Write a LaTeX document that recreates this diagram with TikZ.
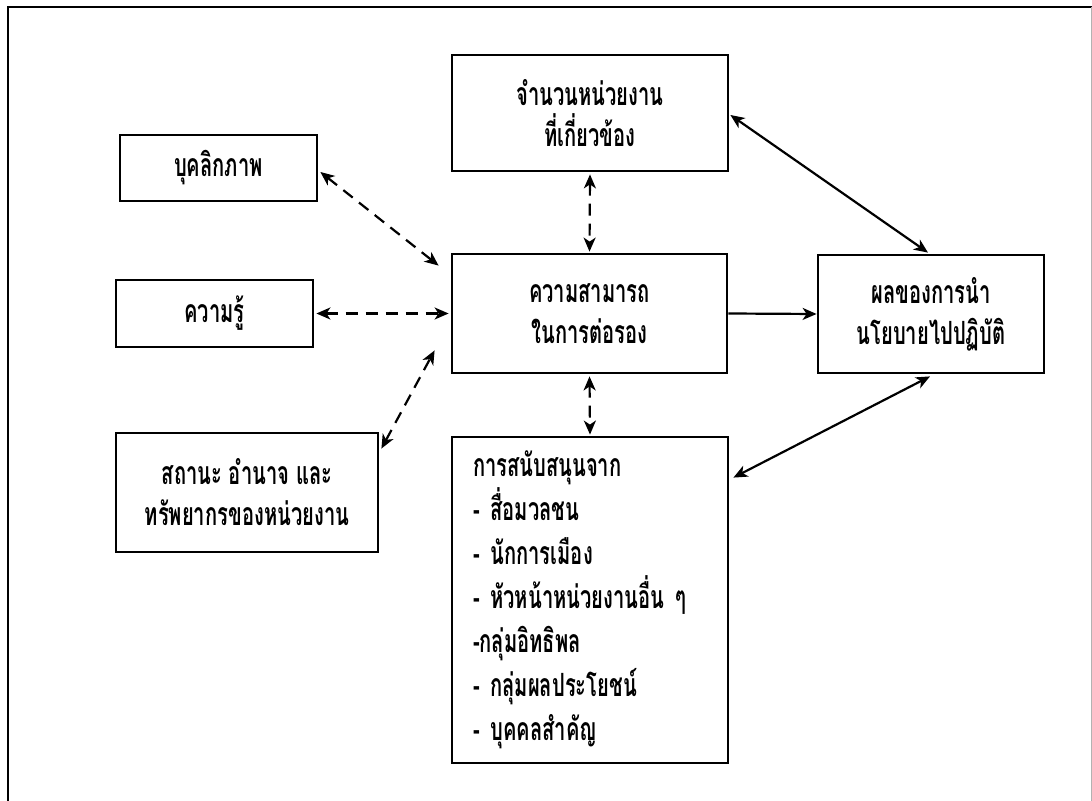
\documentclass[tikz,border=0pt]{standalone}
\usepackage{fontspec}
\newfontfamily\thai[Script=Thai,FakeStretch=0.63]{Loma}
\usetikzlibrary{arrows.meta}
\begin{document}
\begin{tikzpicture}[x=0.5pt,y=-0.5pt,
  box/.style={draw,line width=1.4pt,inner sep=0pt,align=center,
    font=\thai\bfseries\fontsize{16}{20.5}\selectfont},
  dar/.style={line width=1.1pt,dash pattern=on 6pt off 4pt,{Stealth[length=7pt,width=6pt,inset=2pt]}-{Stealth[length=7pt,width=6pt,inset=2pt]}},
  sar/.style={line width=1.1pt,{Stealth[length=7pt,width=6pt,inset=2pt]}-{Stealth[length=7pt,width=6pt,inset=2pt]}},
  oar/.style={line width=1.1pt,-{Stealth[length=7pt,width=6pt,inset=2pt]}}]
\useasboundingbox (0,0) rectangle (1092,801);
% outer frame
\draw[line width=1.1pt] (8,801) -- (8,7) -- (1092,7);
\draw[line width=0.4pt,gray!60] (1091,7) -- (1091,801);

% boxes
\node[box,minimum width=98.5pt,minimum height=33pt] (pers) at (218.5,168) {บุคลิกภาพ};
\node[box,minimum width=98.5pt,minimum height=33.5pt] (know) at (214.5,313.5) {ความรู้};
\node[box,minimum width=131pt,minimum height=59.5pt] (stat) at (247,492.5) {สถานะ อำนาจ และ\\ทรัพยากรของหน่วยงาน};
\node[box,minimum width=138pt,minimum height=58pt] (count) at (590,113) {จำนวนหน่วยงาน\\ที่เกี่ยวข้อง};
\node[box,minimum width=137.5pt,minimum height=59.5pt] (cap) at (589.5,313.5) {ความสามารถ\\ในการต่อรอง};
\node[box,minimum width=113pt,minimum height=59pt] (res) at (931,314) {ผลของการนำ\\นโยบายไปปฏิบัติ};
\node[box,minimum height=163pt,text width=117pt,inner xsep=10.5pt,align=left,
  font=\thai\bfseries\fontsize{16}{22}\selectfont] (sup) at (590,600)
  {การสนับสนุนจาก\\- สื่อมวลชน\\- นักการเมือง\\- หัวหน้าหน่วยงานอื่น ๆ\\-กลุ่มอิทธิพล\\- กลุ่มผลประโยชน์\\- บุคคลสำคัญ};

% connectors
\draw[dar] ([xshift=1pt,yshift=-2pt]pers.east) -- ([xshift=-6pt,yshift=-6.5pt]cap.north west);
\draw[dar] ([xshift=1pt]know.east) -- ([xshift=-1pt]cap.west);
\draw[dar] ([xshift=1pt,yshift=-8.5pt]stat.north east) -- ([xshift=-8pt,yshift=12pt]cap.south west);
\draw[dar] ([yshift=-1pt]count.south) -- ([yshift=0.5pt]cap.north);
\draw[dar] ([yshift=-1pt]cap.south) -- ([yshift=0.5pt]sup.north);
\draw[oar] (cap.east) -- (res.west);
\draw[sar] ([xshift=0.5pt,yshift=-1pt]count.east) -- ([xshift=-1.5pt,yshift=0.5pt]res.north);
\draw[sar] ([xshift=2pt,yshift=-21pt]sup.north east) -- ([xshift=-0.5pt,yshift=-1pt]res.south);
\end{tikzpicture}
\end{document}
